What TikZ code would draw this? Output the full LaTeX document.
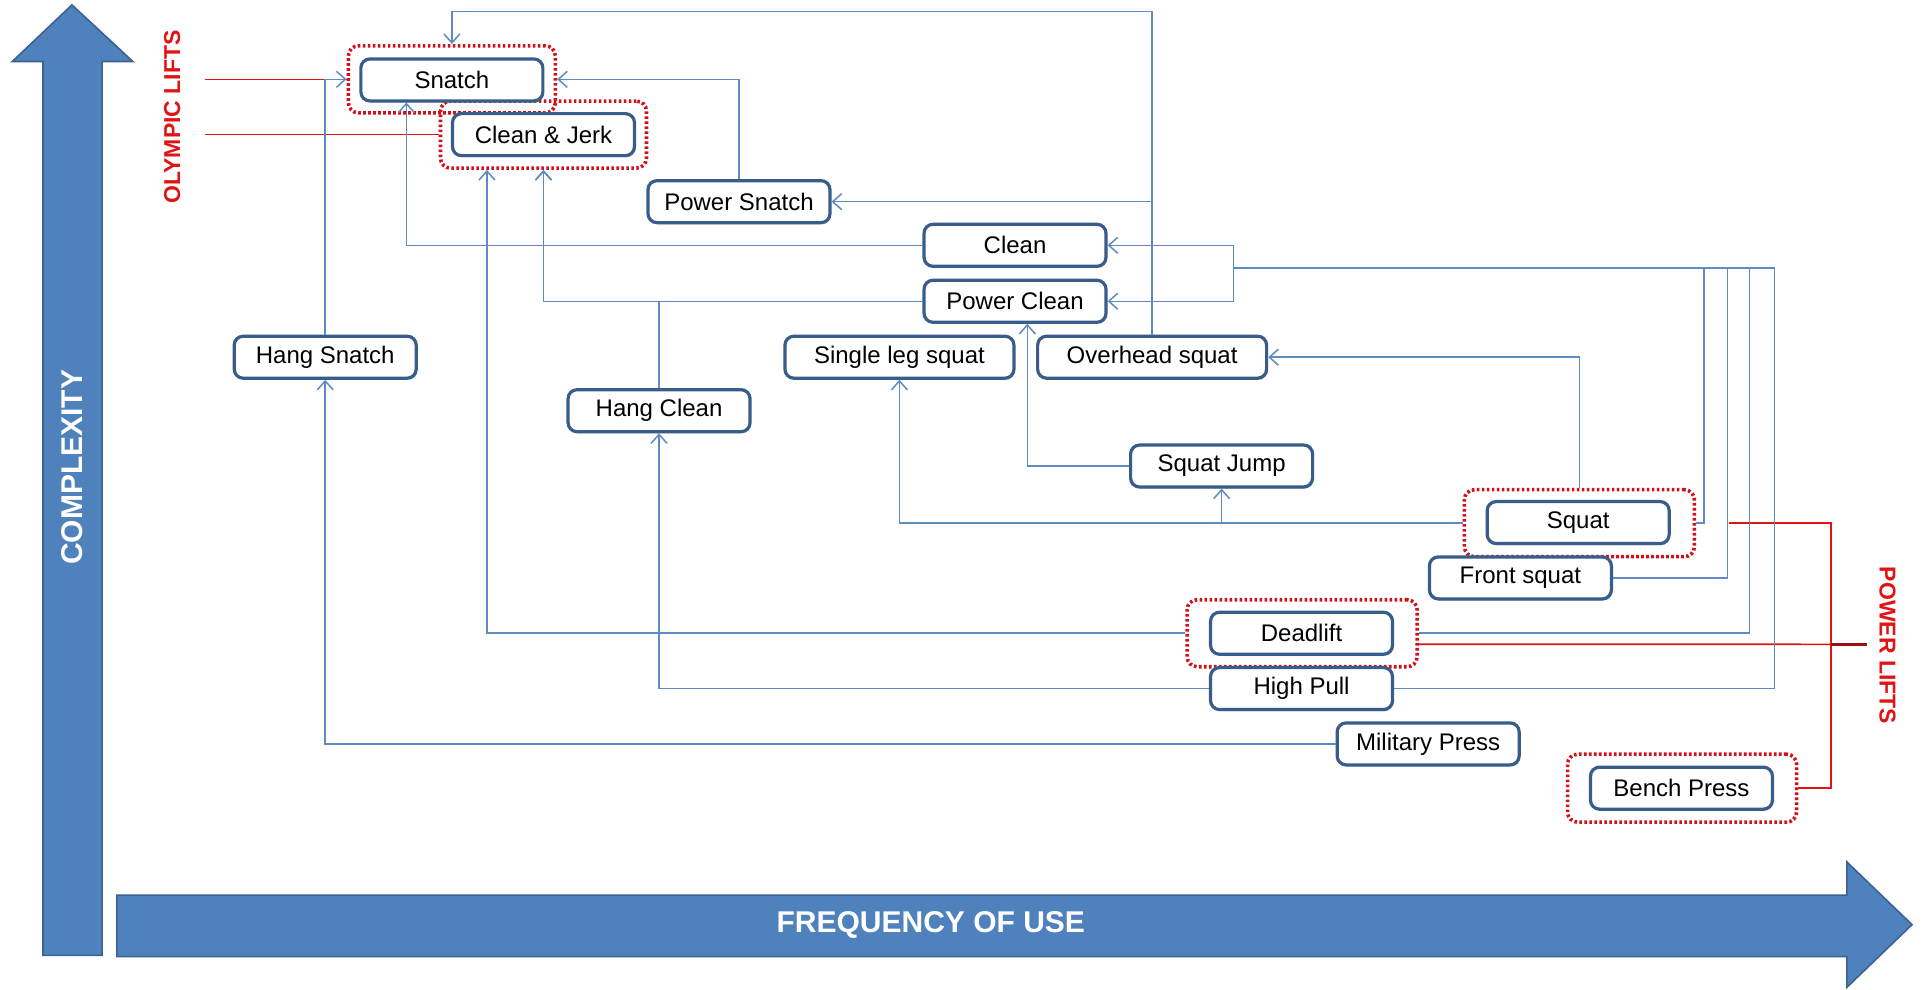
\documentclass[tikz,border=0pt]{standalone}
\usepackage{fontspec}
\setmainfont{Liberation Sans}
\usetikzlibrary{arrows.meta,calc,shadows}

\definecolor{axisblue}{RGB}{79,129,189}
\definecolor{axisedge}{RGB}{60,98,145}
\definecolor{boxedge}{RGB}{56,93,138}
\definecolor{linkblue}{RGB}{96,138,194}
\definecolor{liftred}{RGB}{210,16,28}
\definecolor{tagred}{RGB}{225,20,20}

\begin{document}
\begin{tikzpicture}[x=0.6148pt,y=-0.6148pt,
  lift/.style={draw=boxedge, line width=1.6pt, rounded corners=4.5pt, fill=white,
    minimum width=91pt, minimum height=21pt, inner sep=0pt,
    font=\fontsize{12}{14}\selectfont,
    drop shadow={shadow xshift=0.5pt, shadow yshift=-0.9pt, opacity=0.3}},
  widelift/.style={lift, minimum width=114.5pt},
  liftgroup/.style={draw=liftred, line width=1.8pt, dash pattern=on 1.3pt off 1.2pt,
    rounded corners=5pt, inner sep=0pt, minimum width=115pt, minimum height=33.5pt},
  link/.style={draw=linkblue, line width=0.75pt},
  tip/.style={-{Straight Barb[length=4.5pt,width=8pt]}},
  tag/.style={draw=tagred, line width=0.8pt},
  axislabel/.style={text=white, font=\bfseries\fontsize{15}{17}\selectfont},
  grouplabel/.style={text=tagred, font=\bfseries\fontsize{11.5}{13}\selectfont},
]
\useasboundingbox[fill=white] (0,0) rectangle (1568,805);

% axes
\filldraw[fill=axisblue, draw=axisedge, line width=0.8pt]
  (35,777) -- (35,50) -- (10,50) -- (58.5,4) -- (108,50) -- (83,50) -- (83,777) -- cycle;
\filldraw[fill=axisblue, draw=axisedge, line width=0.8pt]
  (95,728) -- (1502,728) -- (1502,701) -- (1555,752) -- (1502,803) -- (1502,778) -- (95,778) -- cycle;
\node[axislabel, rotate=90] (complexity) at (58.5,380) {COMPLEXITY};
\node[axislabel] (frequency) at (757,752) {FREQUENCY OF USE};

% red groupings
\node[liftgroup, minimum width=103.5pt] (gSnatch) at (367.5,64.5) {};
\node[liftgroup, minimum width=103pt] (gCJ) at (442,109.5) {};
\node[liftgroup] (gSquat) at (1284.5,425.5) {};
\node[liftgroup] (gDead) at (1059,515) {};
\node[liftgroup, minimum width=114.5pt, minimum height=34pt] (gBench) at (1368,641) {};

% exercises
\node[lift] (snatch) at (367.5,65) {Snatch};
\node[lift] (cj) at (442,109.5) {Clean \& Jerk};
\node[lift] (ps) at (601,164) {Power Snatch};
\node[lift] (clean) at (825.5,199.5) {Clean};
\node[lift] (pclean) at (825.5,245) {Power Clean};
\node[lift] (hsnatch) at (264.5,290.5) {Hang Snatch};
\node[widelift] (slsq) at (731.5,290.5) {Single leg squat};
\node[widelift] (oh) at (937,290.5) {Overhead squat};
\node[lift] (hclean) at (536,334) {Hang Clean};
\node[lift] (sjump) at (993.5,379) {Squat Jump};
\node[lift] (squat) at (1283.5,425) {Squat};
\node[lift] (fsq) at (1236.5,470) {Front squat};
\node[lift] (dead) at (1058.5,515) {Deadlift};
\node[lift] (hp) at (1058.5,560) {High Pull};
\node[lift] (mp) at (1161.5,605) {Military Press};
\node[lift] (bench) at (1367.5,641) {Bench Press};

% group labels and brackets
\node[grouplabel, rotate=90] (olympic) at (140,95) {OLYMPIC LIFTS};
\node[grouplabel, rotate=-90] (power) at (1535,525) {POWER LIFTS};
\coordinate (olA) at (167,64.5);
\coordinate (olB) at (167,109.5);
\draw[tag] (olA) -- (gSnatch.west);
\draw[tag] (olB) -- (gCJ.west);
\coordinate (pwS) at (1406,425.5);
\coordinate (pwX) at (1489,524);
\coordinate (pwT) at (1518,524);
\draw[tag] (pwS) -- (pwS -| pwX) -- (pwX |- gBench.east) -- (gBench.east);
\draw[tag] ([yshift=-5.5pt]gDead.east) -- (pwT);
\draw[draw=tagred!70!black, line width=1.6pt] (pwX) -- (pwT);

% progressions
\coordinate (topY) at (0,9.5);
\coordinate (hub) at (1003,218);
\coordinate (c1) at (1386,218);
\coordinate (c2) at (1405,218);
\coordinate (c3) at (1423,218);
\coordinate (c4) at (1443,218);

\draw[link,tip] (oh.north) -- (oh.north |- topY) -| (gSnatch.north);
\draw[link,tip] (oh.north) |- (ps.east);
\draw[link,tip] (ps.north) |- (gSnatch.east);
\draw[link,tip] (hsnatch.north) |- (gSnatch.west);
\draw[link,tip] (clean.west) -| ($(snatch.south)+(-37,0)$);
\draw[link,tip] (pclean.west) -| (gCJ.south);
\draw[link,tip] (hclean.north) -- (hclean.north |- pclean.west) -| (gCJ.south);
\draw[link,tip] (gDead.west) -| ($(gCJ.south)+(-46,0)$);
\draw[link,tip] (mp.west) -| (hsnatch.south);
\draw[link,tip] (hp.west) -| (hclean.south);
\draw[link,tip] (gSquat.west) -| (slsq.south);
\draw[link,tip] (gSquat.west) -| (sjump.south);
\draw[link,tip] (sjump.west) -| ($(pclean.south)+(10,0)$);
\draw[link,tip] (gSquat.north) |- (oh.east);

\draw[link] (gSquat.east) -| (c1) -- (hub);
\draw[link] (fsq.east) -| (c2) -- (hub);
\draw[link] (gDead.east) -| (c3) -- (hub);
\draw[link] (hp.east) -| (c4) -- (hub);
\draw[link,tip] (hub) |- (clean.east);
\draw[link,tip] (hub) |- (pclean.east);
\end{tikzpicture}
\end{document}
